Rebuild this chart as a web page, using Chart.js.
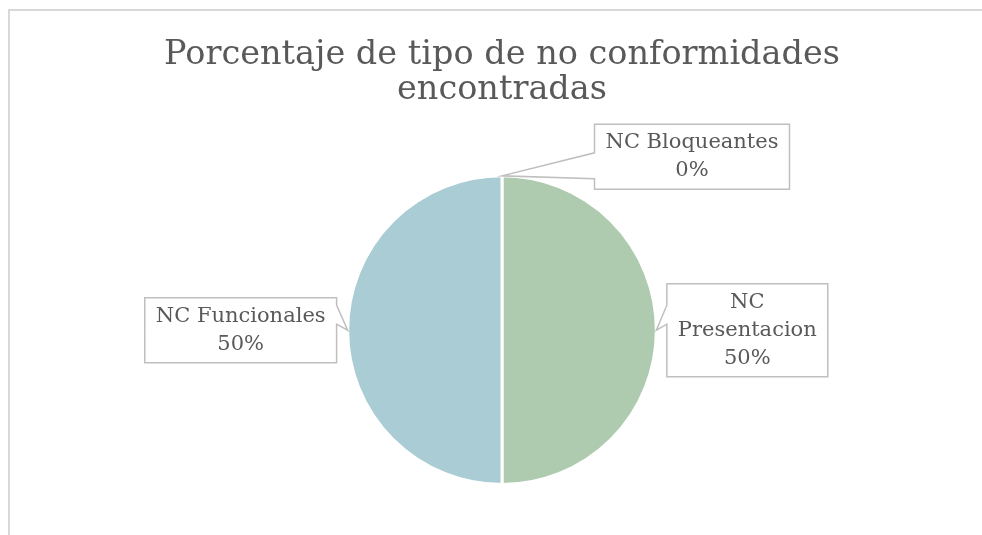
<!DOCTYPE html>
<html>
<head>
<meta charset="utf-8">
<script src="https://cdn.jsdelivr.net/npm/chart.js@4.4.0/dist/chart.umd.min.js"></script>
<style>
  html, body { margin: 0; padding: 0; background: #fff; overflow: hidden; }
  #wrap { position: relative; width: 982px; height: 535px; overflow: hidden; background: #fff; }
  #frameTop { position: absolute; left: 8px; top: 9px; width: 974px; height: 2px; background: #d9d9d9; }
  #frameLeft { position: absolute; left: 8px; top: 9px; width: 2px; height: 526px; background: #d9d9d9; }
  #chart { position: absolute; left: 0; top: 0; }
</style>
</head>
<body>
<div id="wrap">
  <div id="frameTop"></div>
  <div id="frameLeft"></div>
  <canvas id="chart" width="982" height="535"></canvas>
</div>
<script>
// data
var titleLines = ['Porcentaje de tipo de no conformidades', 'encontradas'];
var categories = ['NC Presentacion', 'NC Funcionales', 'NC Bloqueantes'];
var values = [50, 50, 0];
var labelLines = [['NC', 'Presentacion', '50%'], ['NC Funcionales', '50%'], ['NC Bloqueantes', '0%']];
var colors = ['#aecbb0', '#a9ccd5', '#c9d7e8'];

// where each callout box sits, relative to the point on the slice edge
var calloutOffsets = [[91, 0], [-107, 0], [190, -19]];

var fontFam = "'DejaVu Serif', serif";

var calloutPlugin = {
    id: 'callouts',
    afterDatasetsDraw: function(chart) {
        var ctx = chart.ctx;
        var meta = chart.getDatasetMeta(0);
        ctx.save();
        ctx.font = '21px ' + fontFam;
        for (var i = 0; i < meta.data.length; i++) {
            var arc = meta.data[i];
            var p = arc.getProps(['x', 'y', 'startAngle', 'endAngle', 'outerRadius'], true);
            var mid = (p.startAngle + p.endAngle) / 2;
            var tipX = p.x + Math.cos(mid) * p.outerRadius;
            var tipY = p.y + Math.sin(mid) * p.outerRadius;

            var lines = labelLines[i];
            var w = 0;
            for (var j = 0; j < lines.length; j++) {
                w = Math.max(w, ctx.measureText(lines[j]).width);
            }
            var lh = 28;
            var bw = w + 22;
            var bh = lines.length * lh + 9;
            var cx = tipX + calloutOffsets[i][0];
            var cy = tipY + calloutOffsets[i][1];
            var l = cx - bw / 2, r = cx + bw / 2, t = cy - bh / 2, b = cy + bh / 2;

            var b1 = Math.max(t, tipY - 25);
            var b2 = Math.min(b, tipY - 6 < b1 + 10 ? b1 + 18 : tipY - 6);
            if (tipY > t + bh * 0.6) { b2 = Math.min(b, tipY + 3); b1 = b2 - 26; }

            ctx.beginPath();
            if (tipX < l) {
                ctx.moveTo(l, t); ctx.lineTo(r, t); ctx.lineTo(r, b); ctx.lineTo(l, b);
                ctx.lineTo(l, b2); ctx.lineTo(tipX, tipY); ctx.lineTo(l, b1);
            } else {
                ctx.moveTo(l, t); ctx.lineTo(r, t); ctx.lineTo(r, b1);
                ctx.lineTo(tipX, tipY); ctx.lineTo(r, b2); ctx.lineTo(r, b); ctx.lineTo(l, b);
            }
            ctx.closePath();
            ctx.fillStyle = '#ffffff';
            ctx.fill();
            ctx.lineWidth = 1.5;
            ctx.strokeStyle = '#bfbfbf';
            ctx.stroke();

            ctx.fillStyle = '#595959';
            ctx.textAlign = 'center';
            ctx.textBaseline = 'middle';
            for (var k = 0; k < lines.length; k++) {
                ctx.fillText(lines[k], cx, t + 4.5 + lh / 2 + k * lh);
            }
        }
        ctx.restore();
    }
};

var chart = new Chart(document.getElementById('chart'), {
    type: 'pie',
    data: {
        labels: categories,
        datasets: [{
            data: values,
            backgroundColor: colors,
            borderColor: '#ffffff',
            borderWidth: 3
        }]
    },
    options: {
        responsive: false,
        animation: false,
        layout: { padding: { top: 0, bottom: 49, left: 22, right: 0 } },
        plugins: {
            legend: { display: false },
            tooltip: { enabled: false },
            title: {
                display: true,
                text: titleLines,
                color: '#595959',
                font: { family: fontFam, size: 33.5, weight: 'normal', lineHeight: 1.05 },
                padding: { top: 38, bottom: 66 }
            }
        }
    },
    plugins: [calloutPlugin]
});
</script>
</body>
</html>
